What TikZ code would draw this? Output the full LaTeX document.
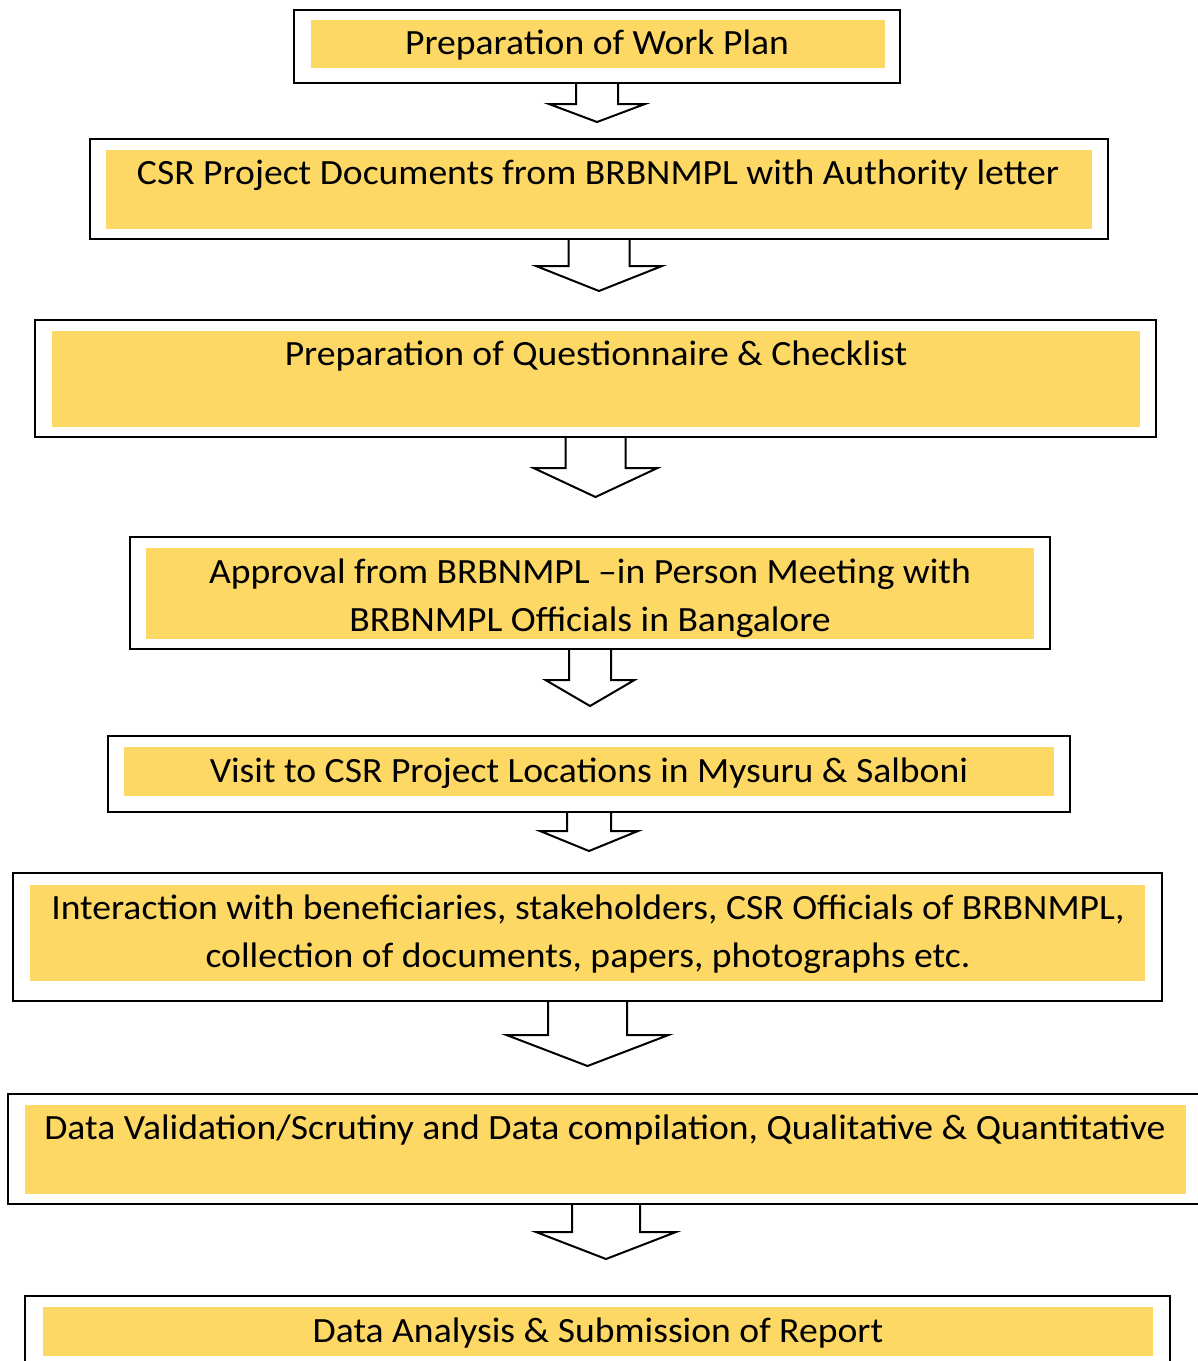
\documentclass[tikz,border=0pt]{standalone}
\usepackage{fontspec}
\setmainfont{Carlito}[FakeStretch=1.06]
\usepackage{tikz}
\usetikzlibrary{calc,positioning}

\definecolor{stepfill}{HTML}{FDD865}

\tikzset{
  outerbox/.style={draw=black, line width=2pt, fill=white, inner sep=0pt},
  fillbox/.style={fill=stepfill, inner sep=0pt},
  steptext/.style={inner sep=0pt, align=center, font=\fontsize{35.5}{48}\selectfont},
  blockarrow/.style={draw=black, line width=2pt, line join=miter}
}

% node, shaft half-width, head half-width, shaft length, head length
\newcommand{\flowarrow}[5]{%
  \draw[blockarrow] ($(#1.south)+(-#2,0)$) -- ($(#1.south)+(-#2,#4)$)
    -- ($(#1.south)+(-#3,#4)$) -- ($(#1.south)+(0,#4+#5)$)
    -- ($(#1.south)+(#3,#4)$) -- ($(#1.south)+(#2,#4)$) -- ($(#1.south)+(#2,0)$);}

\begin{document}
\begin{tikzpicture}[x=1pt, y=-1pt]

    \useasboundingbox (0,0) rectangle (1198,1361);

    % step 1
    \node[outerbox, minimum width=606pt, minimum height=73pt] (o1) at (597,46.5) {};
    \node[fillbox, minimum width=574pt, minimum height=48pt] (f1) at (598,44) {};
    \node[steptext] (t1) at (597,45) {Preparation of Work Plan};

    % step 2
    \node[outerbox, minimum width=1018pt, minimum height=100pt] (o2) at (599,189) {};
    \node[fillbox, minimum width=986pt, minimum height=79pt] (f2) at (599,189.5) {};
    \node[steptext] (t2) at (598,175) {CSR Project Documents from BRBNMPL with Authority letter};

    % step 3
    \node[outerbox, minimum width=1121pt, minimum height=117pt] (o3) at (595.5,378.5) {};
    \node[fillbox, minimum width=1088pt, minimum height=96pt] (f3) at (596,379) {};
    \node[steptext] (t3) at (596,356) {Preparation of Questionnaire \& Checklist};

    % step 4
    \node[outerbox, minimum width=920pt, minimum height=112pt] (o4) at (590,593) {};
    \node[fillbox, minimum width=888pt, minimum height=91pt] (f4) at (590,593.5) {};
    \node[steptext] (t4) at (590,598) {Approval from BRBNMPL --in Person Meeting with\\BRBNMPL Officials in Bangalore};

    % step 5
    \node[outerbox, minimum width=962pt, minimum height=76pt] (o5) at (589,774) {};
    \node[fillbox, minimum width=930pt, minimum height=49pt] (f5) at (589,771.5) {};
    \node[steptext] (t5) at (589,773) {Visit to CSR Project Locations in Mysuru \& Salboni};

    % step 6
    \node[outerbox, minimum width=1149pt, minimum height=128pt] (o6) at (587.5,937) {};
    \node[fillbox, minimum width=1115pt, minimum height=96pt] (f6) at (587.5,933) {};
    \node[steptext] (t6) at (588,934.5) {Interaction with beneficiaries, stakeholders, CSR Officials of BRBNMPL,\\collection of documents, papers, photographs etc.};

    % step 7
    \node[outerbox, minimum width=1196pt, minimum height=110pt] (o7) at (606,1149) {};
    \node[fillbox, minimum width=1161pt, minimum height=89pt] (f7) at (605.5,1149.5) {};
    \node[steptext] (t7) at (605,1130) {Data Validation/Scrutiny and Data compilation, Qualitative \& Quantitative};

    % step 8
    \node[outerbox, minimum width=1145pt, minimum height=80pt] (o8) at (597.5,1336) {};
    \node[fillbox, minimum width=1110pt, minimum height=49pt] (f8) at (598,1331.5) {};
    \node[steptext] (t8) at (598,1333) {Data Analysis \& Submission of Report};

    % arrows
    \flowarrow{o1}{21}{48}{20}{18}
    \flowarrow{o2}{30.5}{63}{26}{25}
    \flowarrow{o3}{30}{62}{30}{29}
    \flowarrow{o4}{21}{44.5}{30}{26}
    \flowarrow{o5}{22}{49}{18}{20}
    \flowarrow{o6}{39.5}{81}{33}{31}
    \flowarrow{o7}{34}{70}{27}{27}

\end{tikzpicture}
\end{document}
